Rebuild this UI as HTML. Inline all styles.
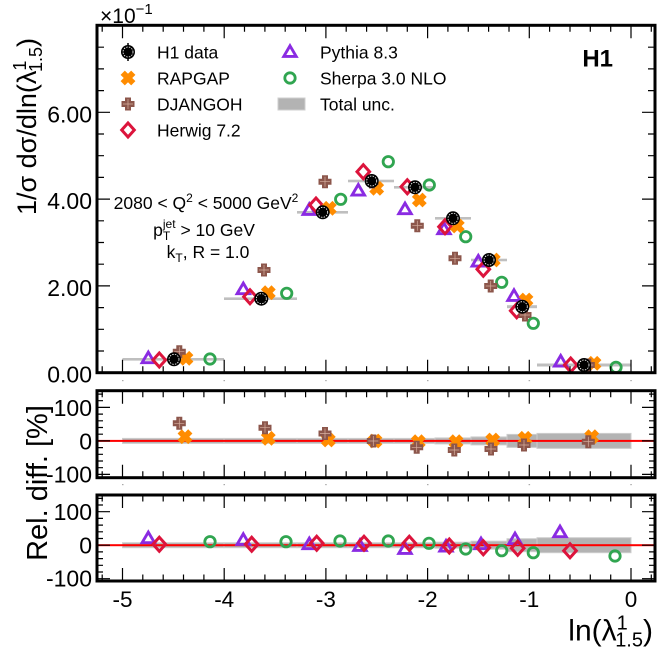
<!DOCTYPE html>
<html><head><meta charset="utf-8"><style>
html,body{margin:0;padding:0;background:#fff;}
svg{display:block;font-family:"Liberation Sans",Arial,sans-serif;}
</style></head><body>
<svg width="661" height="658" viewBox="0 0 661 658" xmlns="http://www.w3.org/2000/svg">
<defs>
  <g id="h1"><circle r="7" fill="#000"/><circle r="5" fill="none" stroke="#fff" stroke-width="0.8" stroke-dasharray="1.5 1.2"/></g>
  <path id="tri" d="M0,-6.2 L6.2,4.4 L-6.2,4.4 Z" fill="none" stroke="#8a2be2" stroke-width="2.9"/>
  <path id="dia" d="M0,-7 L6.3,0 L0,7 L-6.3,0 Z" fill="none" stroke="#dc143c" stroke-width="3"/>
  <circle id="circ" r="5.2" fill="none" stroke="#30a550" stroke-width="2.8"/>
  <path id="xr" transform="rotate(45)" d="M-3,-7.5H3V-3H7.5V3H3V7.5H-3V3H-7.5V-3H-3Z" fill="#ff8c00"/>
  <g id="pl"><path d="M-3,-6.5H3V-3H6.5V3H3V6.5H-3V3H-6.5V-3H-3Z" fill="#8c564b"/><path d="M-5,0H5M0,-5V5" stroke="#d8b0a0" stroke-width="0.7"/></g>
  <path id="xb" fill="none" stroke="#000" stroke-width="1.2" d="M102.2 0v-6.5M142.8 0v-6.5M163.2 0v-6.5M183.5 0v-6.5M203.9 0v-6.5M244.5 0v-6.5M264.9 0v-6.5M285.2 0v-6.5M305.6 0v-6.5M346.2 0v-6.5M366.6 0v-6.5M386.9 0v-6.5M407.3 0v-6.5M447.9 0v-6.5M468.3 0v-6.5M488.6 0v-6.5M509 0v-6.5M549.6 0v-6.5M570 0v-6.5M590.3 0v-6.5M610.7 0v-6.5M651.3 0v-6.5M122.5 0v-13M224.2 0v-13M325.9 0v-13M427.6 0v-13M529.3 0v-13M631 0v-13"/>
  <path id="xt" fill="none" stroke="#000" stroke-width="1.2" d="M102.2 0v6.5M142.8 0v6.5M163.2 0v6.5M183.5 0v6.5M203.9 0v6.5M244.5 0v6.5M264.9 0v6.5M285.2 0v6.5M305.6 0v6.5M346.2 0v6.5M366.6 0v6.5M386.9 0v6.5M407.3 0v6.5M447.9 0v6.5M468.3 0v6.5M488.6 0v6.5M509 0v6.5M549.6 0v6.5M570 0v6.5M590.3 0v6.5M610.7 0v6.5M651.3 0v6.5M122.5 0v13M224.2 0v13M325.9 0v13M427.6 0v13M529.3 0v13M631 0v13"/>
  <path id="yt" fill="none" stroke="#000" stroke-width="1.2" d="M97 -46.8h6M97 -40.2h6M97 -33.5h13M97 -26.8h6M97 -20.1h6M97 -13.4h6M97 -6.7h6M97 0h13M97 6.7h6M97 13.4h6M97 20.1h6M97 26.8h6M97 33.5h13M655 -46.8h-6M655 -40.2h-6M655 -33.5h-13M655 -26.8h-6M655 -20.1h-6M655 -13.4h-6M655 -6.7h-6M655 0h-13M655 6.7h-6M655 13.4h-6M655 20.1h-6M655 26.8h-6M655 33.5h-13"/>
</defs>

<!-- ===== MAIN PANEL ===== -->
<g fill="#bfbfbf">
  <rect x="122.5" y="358" width="101.5" height="2.6"/>
  <rect x="224" y="297.4" width="73" height="2.6"/>
  <rect x="297" y="211" width="51" height="2.6"/>
  <rect x="348" y="179.7" width="46" height="2.6"/>
  <rect x="394" y="186" width="41" height="2.6"/>
  <rect x="435" y="217" width="36" height="2.6"/>
  <rect x="471" y="258.7" width="36" height="2.6"/>
  <rect x="507" y="305.2" width="30" height="3"/>
  <rect x="537" y="363.5" width="94" height="3"/>
</g>
<g>
  <use href="#circ" x="210" y="359"/><use href="#circ" x="286.7" y="293.3"/><use href="#circ" x="340.7" y="199.3"/>
  <use href="#circ" x="388.3" y="161.7"/><use href="#circ" x="429.3" y="185"/><use href="#circ" x="465.7" y="236.7"/>
  <use href="#circ" x="501.7" y="282.3"/><use href="#circ" x="533.3" y="323.3"/><use href="#circ" x="616" y="367.3"/>
</g>
<g>
  <use href="#tri" x="148.3" y="358.3"/><use href="#tri" x="243.3" y="289.3"/><use href="#tri" x="309.3" y="210"/>
  <use href="#tri" x="358.3" y="190.7"/><use href="#tri" x="405" y="209.3"/><use href="#tri" x="444" y="229.3"/>
  <use href="#tri" x="478.3" y="261.7"/><use href="#tri" x="514" y="296"/><use href="#tri" x="560.7" y="361.7"/>
</g>
<g>
  <use href="#dia" x="159.3" y="360"/><use href="#dia" x="250" y="296.7"/><use href="#dia" x="316" y="205"/>
  <use href="#dia" x="363.3" y="171.7"/><use href="#dia" x="407.3" y="186.7"/><use href="#dia" x="445" y="226.7"/>
  <use href="#dia" x="483.3" y="269.3"/><use href="#dia" x="516.7" y="310.7"/><use href="#dia" x="570.7" y="365"/>
</g>
<g>
  <use href="#xr" x="186" y="358.3"/><use href="#xr" x="268.3" y="292.7"/><use href="#xr" x="329.3" y="208.3"/>
  <use href="#xr" x="376.7" y="188.3"/><use href="#xr" x="419.3" y="200"/><use href="#xr" x="457.3" y="226"/>
  <use href="#xr" x="493.3" y="260"/><use href="#xr" x="526" y="300"/><use href="#xr" x="594" y="363.3"/>
</g>
<g>
  <use href="#pl" x="179.3" y="351.7"/><use href="#pl" x="264" y="270"/><use href="#pl" x="325" y="181.7"/>
  <use href="#pl" x="372" y="182"/><use href="#pl" x="417.3" y="225.7"/><use href="#pl" x="455" y="258.3"/>
  <use href="#pl" x="490.7" y="286"/><use href="#pl" x="525" y="315"/><use href="#pl" x="588.3" y="365"/>
</g>
<g>
  <use href="#h1" x="174" y="359.3"/><use href="#h1" x="261.3" y="298.7"/><use href="#h1" x="322.7" y="212.3"/>
  <use href="#h1" x="371.7" y="181"/><use href="#h1" x="415" y="187.3"/><use href="#h1" x="453" y="218.3"/>
  <use href="#h1" x="489" y="260"/><use href="#h1" x="522.3" y="306.7"/><use href="#h1" x="584" y="365"/>
</g>

<rect x="97" y="25.3" width="558" height="347.4" fill="none" stroke="#000" stroke-width="3"/>
<use href="#xb" y="372.7"/>
<use href="#xt" y="25.3"/>
<path fill="none" stroke="#000" stroke-width="1.2" d="M97 351h7M97 329.3h7M97 307.6h7M97 285.9h13M97 264.2h7M97 242.5h7M97 220.8h7M97 199.1h13M97 177.4h7M97 155.7h7M97 134h7M97 112.3h13M97 90.6h7M97 68.9h7M97 47.2h7
M655 351h-7M655 329.3h-7M655 307.6h-7M655 285.9h-13M655 264.2h-7M655 242.5h-7M655 220.8h-7M655 199.1h-13M655 177.4h-7M655 155.7h-7M655 134h-7M655 112.3h-13M655 90.6h-7M655 68.9h-7M655 47.2h-7"/>

<g font-size="23" text-anchor="end" fill="#000">
  <text x="92" y="122.3">6.00</text>
  <text x="92" y="209.1">4.00</text>
  <text x="92" y="295.9">2.00</text>
  <text x="92" y="382.7">0.00</text>
</g>
<text x="100" y="23" font-size="21">×10<tspan dy="-9" font-size="15">−1</tspan></text>
<text transform="translate(36,126.5) rotate(-90)" text-anchor="middle" font-size="27">1/σ dσ/dln(λ<tspan dy="-10" font-size="18">1</tspan><tspan dx="-10" dy="16" font-size="18">1.5</tspan><tspan dy="-6">)</tspan></text>

<text x="613" y="66.7" text-anchor="end" font-size="24" font-weight="bold">H1</text>

<g>
  <path d="M128 43V61" stroke="#000" stroke-width="1.5"/>
  <use href="#h1" x="128" y="52"/>
  <use href="#xr" x="128" y="78"/>
  <use href="#pl" x="128" y="104"/>
  <use href="#dia" x="128" y="130"/>
  <use href="#tri" x="290" y="52"/>
  <use href="#circ" x="290" y="78"/>
  <rect x="278" y="98" width="27" height="12" fill="#b3b3b3" stroke="#cfcfcf" stroke-width="1"/>
</g>
<g font-size="17.5" fill="#000">
  <text x="157" y="58.3">H1 data</text>
  <text x="157" y="84.3">RAPGAP</text>
  <text x="157" y="110.3">DJANGOH</text>
  <text x="157" y="136.3">Herwig 7.2</text>
  <text x="320" y="58.3">Pythia 8.3</text>
  <text x="320" y="84.3">Sherpa 3.0 NLO</text>
  <text x="320" y="110.3">Total unc.</text>
</g>

<g font-size="17.5" text-anchor="middle" fill="#000">
  <text x="206" y="209">2080 &lt; Q<tspan dy="-7" font-size="12">2</tspan><tspan dy="7"> &lt; 5000 GeV</tspan><tspan dy="-7" font-size="12">2</tspan></text>
  <text x="204" y="236">p<tspan dy="4" font-size="12">T</tspan><tspan dx="-7.3" dy="-12" font-size="12">jet</tspan><tspan dy="8"> &gt; 10 GeV</tspan></text>
  <text x="208" y="258">k<tspan dy="4" font-size="12">T</tspan><tspan dy="-4">, R = 1.0</tspan></text>
</g>

<g fill="#aaa">
  <rect x="122" y="380" width="1.5" height="1.2"/><rect x="223.5" y="380" width="1.5" height="1.2"/><rect x="325.2" y="380" width="1.5" height="1.2"/><rect x="427" y="380" width="1.5" height="1.2"/><rect x="528.6" y="380" width="1.5" height="1.2"/><rect x="630.3" y="380" width="1.5" height="1.2"/>
  <rect x="122" y="484" width="1.5" height="1.2"/><rect x="223.5" y="484" width="1.5" height="1.2"/><rect x="325.2" y="484" width="1.5" height="1.2"/><rect x="427" y="484" width="1.5" height="1.2"/><rect x="528.6" y="484" width="1.5" height="1.2"/><rect x="630.3" y="484" width="1.5" height="1.2"/>
</g>

<!-- ===== MIDDLE PANEL ===== -->
<g fill="#b3b3b3" stroke="#cdcdcd" stroke-width="1">
  <rect x="122.5" y="438.4" width="101.5" height="5"/>
  <rect x="224" y="438.4" width="73" height="5"/>
  <rect x="297" y="438.4" width="51" height="5"/>
  <rect x="348" y="438.4" width="46" height="5"/>
  <rect x="394" y="438.4" width="41" height="5"/>
  <rect x="435" y="437.9" width="36" height="6"/>
  <rect x="471" y="436.9" width="36" height="8"/>
  <rect x="507" y="434.4" width="30" height="13"/>
  <rect x="537" y="433.4" width="94" height="15"/>
</g>
<rect x="97" y="439.9" width="558" height="2" fill="#ff0000"/>
<g>
  <use href="#xr" x="185" y="436.7"/><use href="#xr" x="268.3" y="438.3"/><use href="#xr" x="328.3" y="440"/>
  <use href="#xr" x="375" y="441"/><use href="#xr" x="418.3" y="441.7"/><use href="#xr" x="456" y="441.7"/>
  <use href="#xr" x="492.7" y="440"/><use href="#xr" x="525" y="438.3"/><use href="#xr" x="591.7" y="436.7"/>
</g>
<g>
  <use href="#pl" x="179.3" y="423.3"/><use href="#pl" x="265" y="427.7"/><use href="#pl" x="325" y="433.5"/>
  <use href="#pl" x="373.3" y="441"/><use href="#pl" x="416.7" y="447.3"/><use href="#pl" x="454.3" y="450"/>
  <use href="#pl" x="491" y="449"/><use href="#pl" x="524" y="445"/><use href="#pl" x="588.3" y="441.7"/>
</g>
<rect x="97" y="390.7" width="558" height="87" fill="none" stroke="#000" stroke-width="3"/>
<use href="#xb" y="477.7"/>
<use href="#xt" y="390.7"/>
<use href="#yt" y="440.9"/>
<g font-size="23" text-anchor="end">
  <text x="92" y="416">100</text>
  <text x="92" y="449.4">0</text>
  <text x="92" y="482.5">-100</text>
</g>

<!-- ===== BOTTOM PANEL ===== -->
<g fill="#b3b3b3" stroke="#cdcdcd" stroke-width="1">
  <rect x="122.5" y="542.7" width="101.5" height="5"/>
  <rect x="224" y="542.7" width="73" height="5"/>
  <rect x="297" y="542.7" width="51" height="5"/>
  <rect x="348" y="542.7" width="46" height="5"/>
  <rect x="394" y="542.7" width="41" height="5"/>
  <rect x="435" y="542.2" width="36" height="6"/>
  <rect x="471" y="541.2" width="36" height="8"/>
  <rect x="507" y="538.7" width="30" height="13"/>
  <rect x="537" y="537.7" width="94" height="15"/>
</g>
<rect x="97" y="544.2" width="558" height="2" fill="#ff0000"/>
<g>
  <use href="#circ" x="210" y="541.7"/><use href="#circ" x="286" y="541.7"/><use href="#circ" x="340" y="541"/>
  <use href="#circ" x="388.3" y="541"/><use href="#circ" x="429" y="543.3"/><use href="#circ" x="465.7" y="549"/>
  <use href="#circ" x="501.7" y="550.7"/><use href="#circ" x="533.3" y="552.7"/><use href="#circ" x="615" y="556"/>
</g>
<g>
  <use href="#tri" x="148.3" y="538.3"/><use href="#tri" x="243.3" y="540"/><use href="#tri" x="309.3" y="544.3"/>
  <use href="#tri" x="360" y="546"/><use href="#tri" x="405" y="549"/><use href="#tri" x="446" y="546.7"/>
  <use href="#tri" x="481" y="544.3"/><use href="#tri" x="515" y="539.3"/><use href="#tri" x="560" y="532.3"/>
</g>
<g>
  <use href="#dia" x="159.3" y="544.3"/><use href="#dia" x="251.7" y="544.3"/><use href="#dia" x="316.7" y="543.3"/>
  <use href="#dia" x="364" y="543.3"/><use href="#dia" x="409.3" y="543.3"/><use href="#dia" x="449.3" y="546"/>
  <use href="#dia" x="483.3" y="547.7"/><use href="#dia" x="517.7" y="548.3"/><use href="#dia" x="570" y="550.7"/>
</g>
<rect x="97" y="495" width="558" height="86" fill="none" stroke="#000" stroke-width="3"/>
<use href="#xb" y="581"/>
<use href="#xt" y="495"/>
<use href="#yt" y="545.2"/>
<g font-size="23" text-anchor="end">
  <text x="92" y="520">100</text>
  <text x="92" y="553.7">0</text>
  <text x="92" y="586.5">-100</text>
</g>

<text transform="translate(47,483) rotate(-90)" text-anchor="middle" font-size="29">Rel. diff. [%]</text>

<g font-size="22.5" text-anchor="middle">
  <text x="122.5" y="607">-5</text>
  <text x="224.2" y="607">-4</text>
  <text x="325.9" y="607">-3</text>
  <text x="427.6" y="607">-2</text>
  <text x="529.3" y="607">-1</text>
  <text x="631" y="607">0</text>
</g>
<text x="653" y="640.7" text-anchor="end" font-size="30">ln(λ<tspan dy="-11" font-size="20">1</tspan><tspan dx="-11.1" dy="17" font-size="20">1.5</tspan><tspan dy="-6">)</tspan></text>
</svg>
</body></html>
